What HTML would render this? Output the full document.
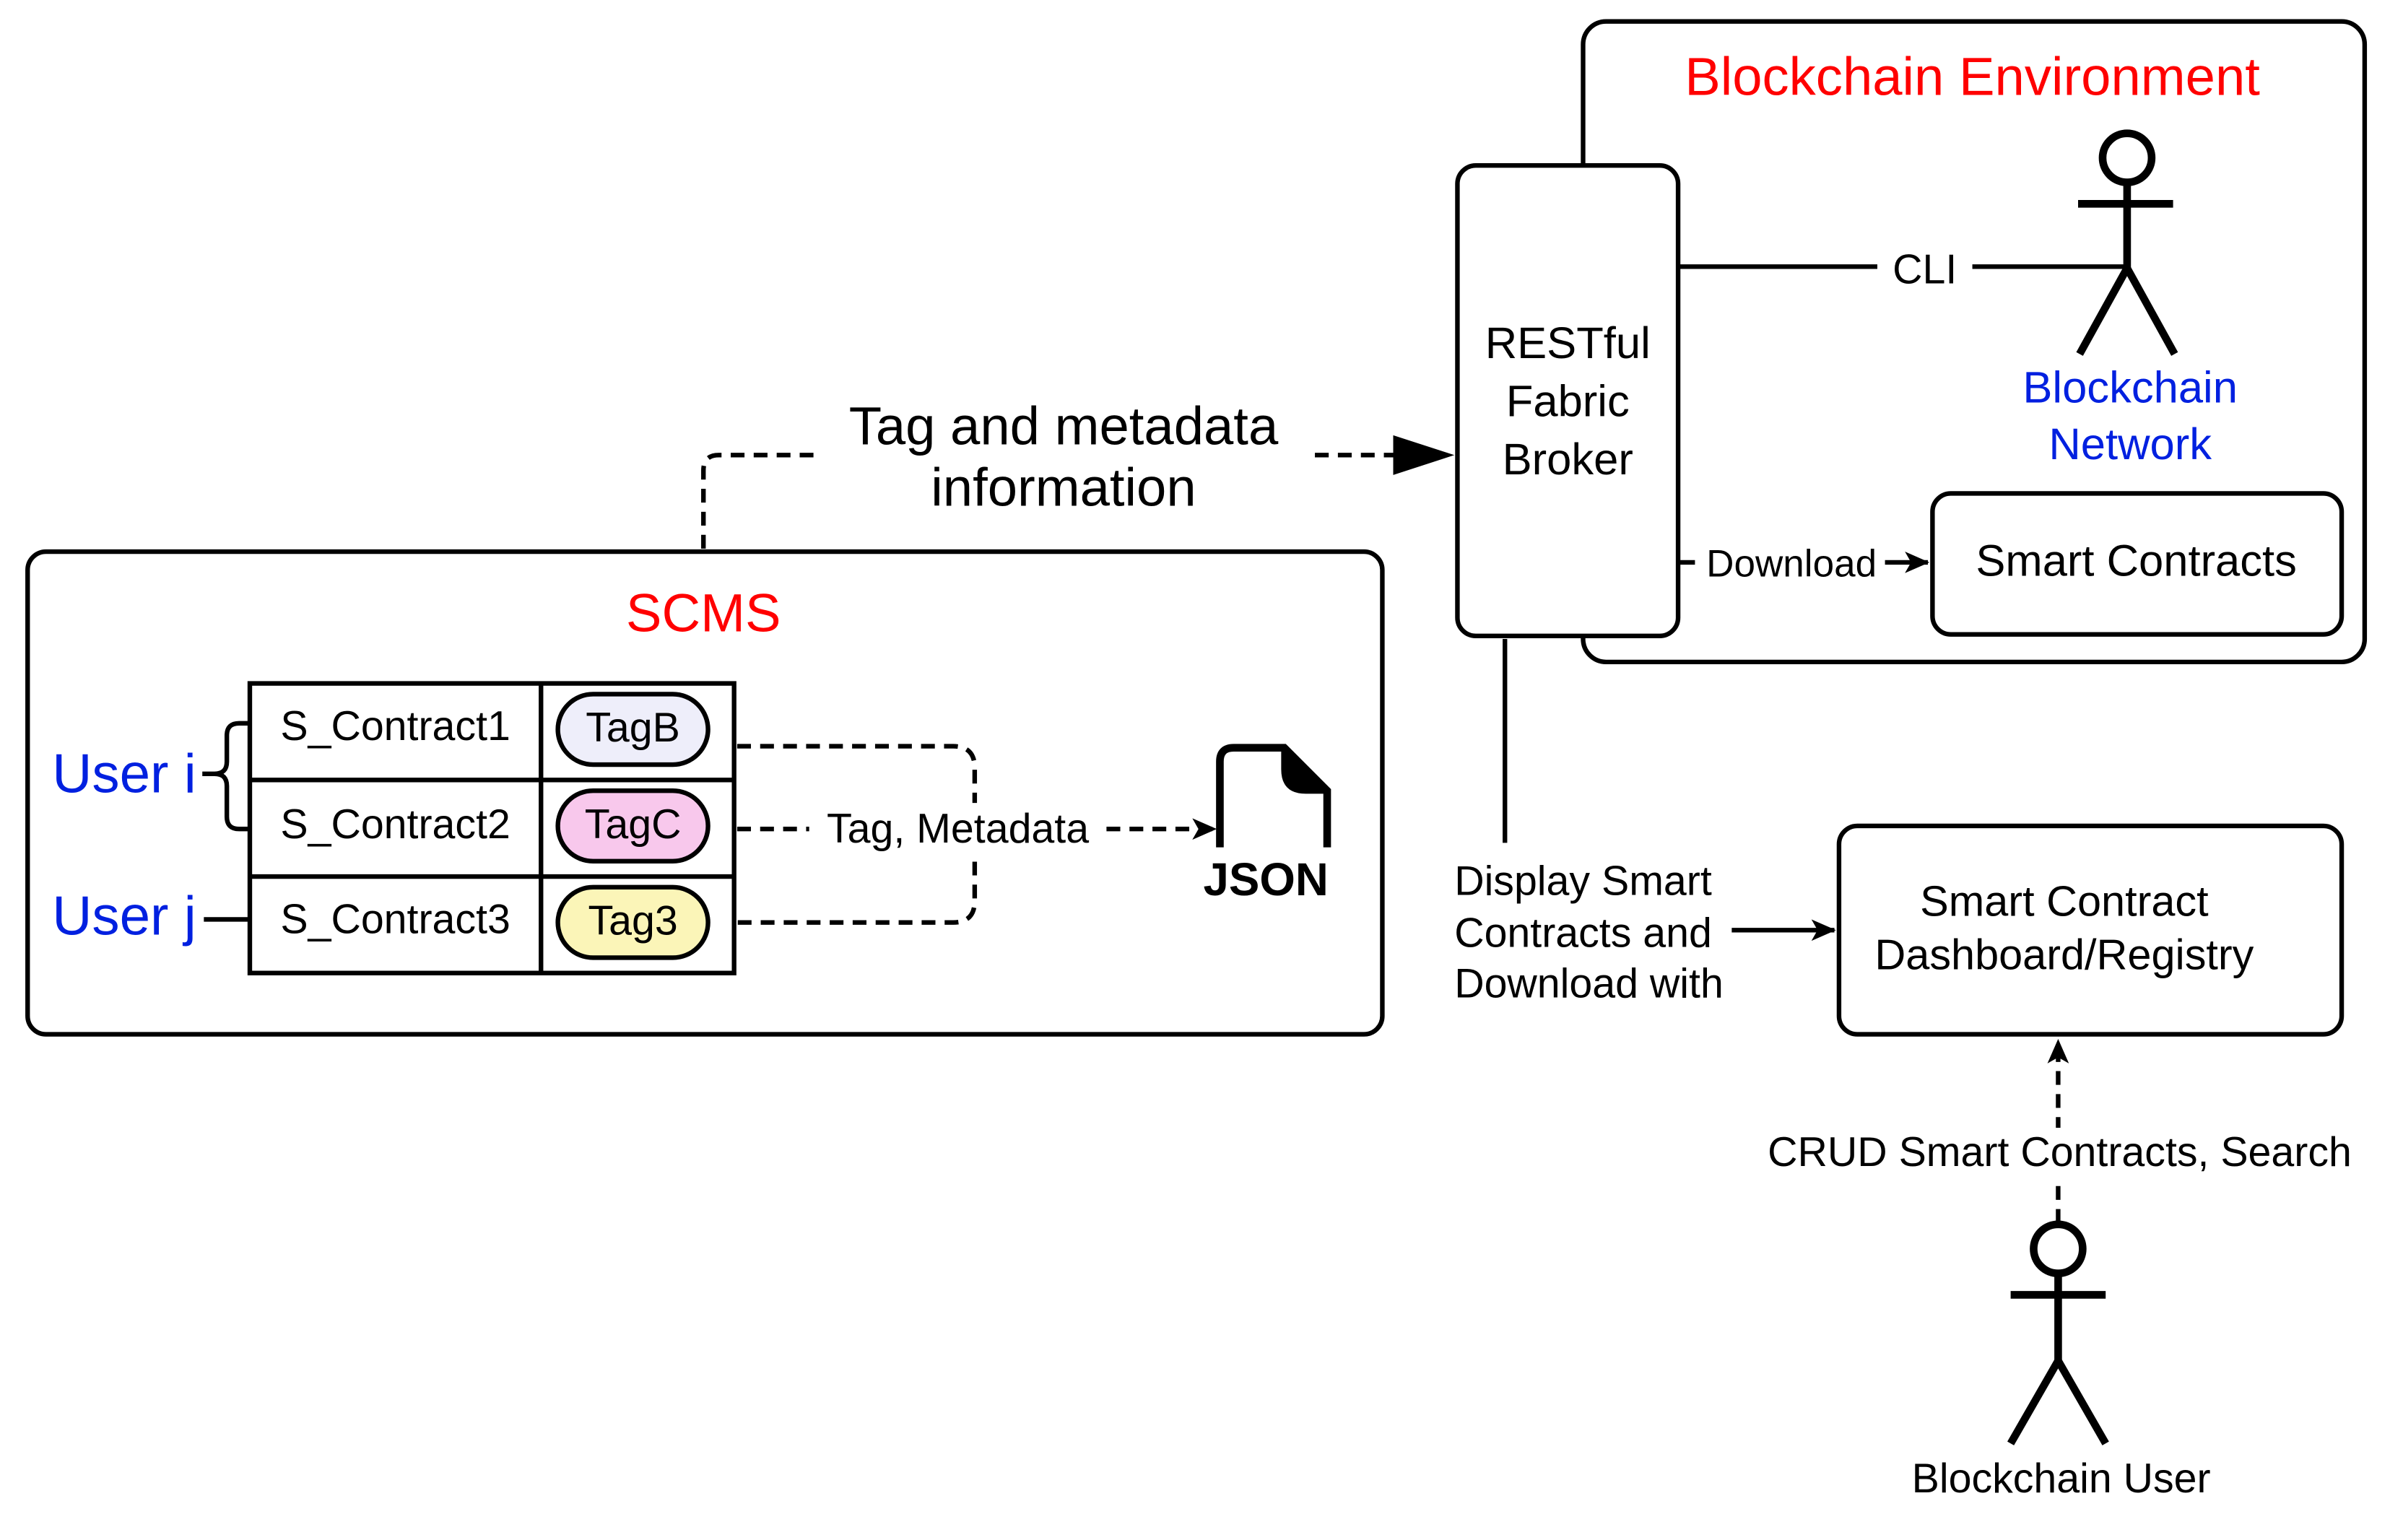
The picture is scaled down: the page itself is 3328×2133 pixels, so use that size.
<!DOCTYPE html>
<html><head><meta charset="utf-8"><style>html,body{margin:0;padding:0;background:#fff}svg{display:block}</style></head><body>
<svg width="3328" height="2133" viewBox="0 0 1568 1005" xmlns="http://www.w3.org/2000/svg" font-family="Liberation Sans, Arial, sans-serif">
<defs>
<marker id="a2" markerWidth="16" markerHeight="14" refX="15" refY="7" orient="auto" markerUnits="userSpaceOnUse"><path d="M0,0 L16,7 L0,14 L4,7 Z" fill="#000"/></marker>
<marker id="big" markerWidth="40" markerHeight="30" refX="39" refY="15" orient="auto" markerUnits="userSpaceOnUse"><path d="M0,2 L40,15 L0,28 Z" fill="#000"/></marker>
</defs>
<g fill="none" stroke="#000" stroke-width="3">
<rect x="1033" y="14" width="510" height="418" rx="15" fill="#fff"/>
<rect x="951" y="108" width="144" height="307" rx="12" fill="#fff"/>
<line x1="1095" y1="174" x2="1225" y2="174"/>
<line x1="1287" y1="174" x2="1388" y2="174"/>
<rect x="1261" y="322" width="267" height="92" rx="12"/>
<line x1="1095" y1="367" x2="1106" y2="367"/>
<line x1="1230" y1="367" x2="1258" y2="367" marker-end="url(#a2)"/>
<rect x="18" y="360" width="884" height="315" rx="12"/>
<path d="M459,358 V307 Q459,297 469,297 H535" stroke-dasharray="9,6"/>
<line x1="858" y1="297" x2="948" y2="297" stroke-dasharray="9,6" marker-end="url(#big)"/>
<rect x="163" y="446" width="316" height="189"/>
<line x1="353" y1="446" x2="353" y2="635"/>
<line x1="163" y1="509" x2="479" y2="509"/>
<line x1="163" y1="572" x2="479" y2="572"/>
<path d="M163,472 H156 Q148,472 148,480 V497 Q148,505 140,505 H132 M140,505 Q148,505 148,513 V533 Q148,541 156,541 H163"/>
<line x1="133" y1="600" x2="163" y2="600"/>
<path d="M481,487 H622 Q636,487 636,501 V588 Q636,602 622,602 H481" stroke-dasharray="9,6"/>
<line x1="481" y1="541" x2="528" y2="541" stroke-dasharray="9,6"/>
<line x1="722" y1="541" x2="793" y2="541" stroke-dasharray="9,6" marker-end="url(#a2)"/>
<path d="M796,553 V497 Q796,488 805,488 H838 L866,516 V553" stroke-width="5"/>
<line x1="982" y1="417" x2="982" y2="550"/>
<line x1="1130" y1="607" x2="1197" y2="607" marker-end="url(#a2)"/>
<rect x="1200" y="539" width="328" height="136" rx="12"/>
<line x1="1343" y1="798" x2="1343" y2="679" stroke-dasharray="9,6" marker-end="url(#a2)"/>
</g>
<path d="M836,488 H840 L867,516 V518 H852 Q836,518 836,502 Z" fill="#000"/>
<g fill="none" stroke="#000" stroke-width="5">
<circle cx="1388" cy="103" r="16"/>
<line x1="1388" y1="119" x2="1388" y2="175"/><line x1="1356" y1="133" x2="1418" y2="133"/>
<path d="M1357,231 L1388,175 L1419,231"/>
<circle cx="1343" cy="815" r="16"/>
<line x1="1343" y1="831" x2="1343" y2="888"/><line x1="1312" y1="845" x2="1374" y2="845"/>
<path d="M1312,942 L1343,888 L1374,942"/>
</g>
<g stroke="#000" stroke-width="3">
<rect x="364" y="453" width="98" height="46" rx="23" fill="#eeeefa"/>
<rect x="364" y="516" width="98" height="46" rx="23" fill="#f8c8ec"/>
<rect x="364" y="579" width="98" height="46" rx="23" fill="#fbf5b8"/>
</g>
<rect x="534" y="524" width="184" height="34" fill="#fff"/>
<rect x="1152" y="736" width="386" height="34" fill="#fff"/>
<g text-anchor="middle" dominant-baseline="central" fill="#000">
<text x="1287" y="50" font-size="35" fill="#f00">Blockchain Environment</text>
<text x="1023" y="224" font-size="29">RESTful</text>
<text x="1023" y="262" font-size="29">Fabric</text>
<text x="1023" y="300" font-size="29">Broker</text>
<text x="1256" y="176" font-size="27">CLI</text>
<text x="1390" y="253" font-size="29" fill="#0020e0">Blockchain</text>
<text x="1390" y="290" font-size="29" fill="#0020e0">Network</text>
<text x="1394" y="366" font-size="29">Smart Contracts</text>
<text x="1169" y="368" font-size="25">Download</text>
<text x="459" y="400" font-size="35" fill="#f00">SCMS</text>
<text x="694" y="278" font-size="35">Tag and metadata</text>
<text x="694" y="318" font-size="35">information</text>
<text x="258" y="474" font-size="27">S_Contract1</text>
<text x="258" y="538" font-size="27">S_Contract2</text>
<text x="258" y="600" font-size="27">S_Contract3</text>
<text x="413" y="475" font-size="27">TagB</text>
<text x="413" y="538" font-size="27">TagC</text>
<text x="413" y="601" font-size="27">Tag3</text>
<text x="625" y="541" font-size="27">Tag, Metadata</text>
<text x="826" y="574" font-size="30" font-weight="bold">JSON</text>
<text x="1347" y="588" font-size="28">Smart Contract</text>
<text x="1347" y="623" font-size="28">Dashboard/Registry</text>
<text x="1344" y="752" font-size="27">CRUD Smart Contracts, Search</text>
<text x="1345" y="965" font-size="27">Blockchain User</text>
</g>
<g dominant-baseline="central" fill="#000">
<text x="34" y="505" font-size="36" fill="#0020e0">User i</text>
<text x="34" y="598" font-size="36" fill="#0020e0">User j</text>
<text x="949" y="575" font-size="27">Display Smart</text>
<text x="949" y="609" font-size="27">Contracts and</text>
<text x="949" y="642" font-size="27">Download with</text>
</g>
</svg>
</body></html>
